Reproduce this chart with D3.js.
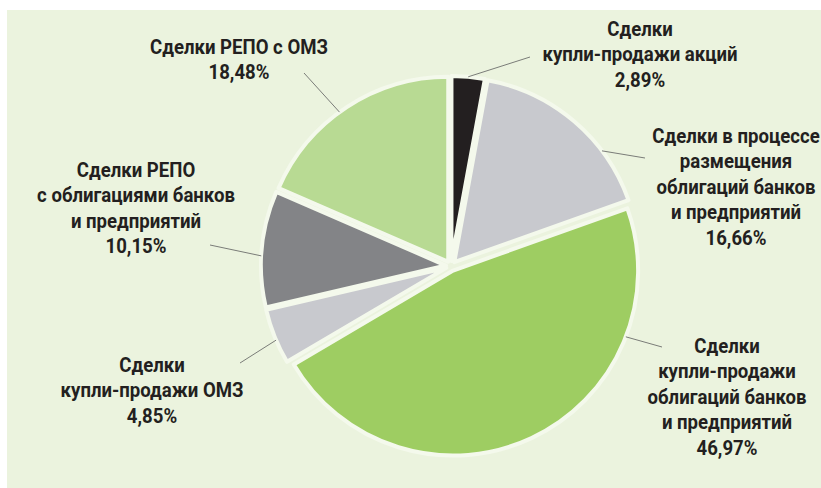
<!DOCTYPE html>
<html lang="ru">
<head>
<meta charset="UTF-8">
<title>Структура сделок</title>
<style>
    body { margin: 0; background: #fff; }
    svg { display: block; }
    .lbl { font-family: Roboto, "DejaVu Sans", sans-serif; font-weight: 700; font-size: 21px; fill: #231f20; }
</style>
</head>
<body>
<script src="https://d3js.org/d3.v7.min.js"></script>
<script>
    // data
    const categories = [
        ["Сделки", "купли-продажи акций"],
        ["Сделки в процессе", "размещения", "облигаций банков", "и предприятий"],
        ["Сделки", "купли-продажи", "облигаций банков", "и предприятий"],
        ["Сделки", "купли-продажи ОМЗ"],
        ["Сделки РЕПО", "с облигациями банков", "и предприятий"],
        ["Сделки РЕПО с ОМЗ"]
    ];
    const values = [2.89, 16.66, 46.97, 4.85, 10.15, 18.48];
    const colors = ["#231f20", "#c8c9ce", "#9ecd62", "#c8c9ce", "#838487", "#b8da93"];

    // layout for labels and leader lines
    const labelX = [640, 736, 727, 152, 136, 239];
    const labelY = [29, 136, 346, 365, 170, 47];
    const leadAngle = [5.2, 53, 111, 247, 273, 324];
    const leadEnd = [[530, 57], [645, 158], [662, 347], [240, 363], [210, 245], [304, 73]];

    const width = 821, height = 488;
    const cx = 451, cy = 266, r = 185, explode = 5, lineH = 25.5;

    const svg = d3.select("body").append("svg")
        .attr("width", width)
        .attr("height", height);

    svg.append("rect")
        .attr("x", 7).attr("y", 10)
        .attr("width", width - 7).attr("height", height - 10)
        .attr("fill", "#ebf3de");

    const pie = d3.pie().sort(null).value(d => d)(values);
    const arc = d3.arc().innerRadius(0).outerRadius(r);

    const offset = d => d3.pointRadial((d.startAngle + d.endAngle) / 2, explode);

    const g = svg.append("g").attr("transform", `translate(${cx},${cy})`);

    g.selectAll("path.slice")
        .data(pie)
        .join("path")
        .attr("class", "slice")
        .attr("transform", d => `translate(${offset(d)})`)
        .attr("d", arc)
        .attr("fill", (d, i) => colors[i])
        .attr("stroke", "#f4f9ec")
        .attr("stroke-width", 4)
        .attr("stroke-linejoin", "round");

    // leader lines
    g.selectAll("line.lead")
        .data(pie)
        .join("line")
        .attr("class", "lead")
        .each(function (d, i) {
            const o = offset(d);
            const p = d3.pointRadial(leadAngle[i] * Math.PI / 180, r);
            d3.select(this)
                .attr("x1", p[0] + o[0]).attr("y1", p[1] + o[1])
                .attr("x2", leadEnd[i][0] - cx).attr("y2", leadEnd[i][1] - cy);
        })
        .attr("stroke", "#7a7c78")
        .attr("stroke-width", 1);

    // condensed look: squeeze text horizontally so "облигаций банков" is ~159px wide
    const probe = svg.append("text").attr("class", "lbl").text("облигаций банков");
    const sx = 159 / probe.node().getComputedTextLength();
    probe.remove();

    // labels
    const fmt = v => v.toFixed(2).replace(".", ",") + "%";
    const labels = svg.selectAll("text.lbl")
        .data(values)
        .join("text")
        .attr("class", "lbl")
        .attr("text-anchor", "middle")
        .attr("transform", (d, i) => `translate(${labelX[i]},0) scale(${sx},1)`);

    labels.each(function (d, i) {
        const lines = categories[i].concat([fmt(d)]);
        d3.select(this).selectAll("tspan")
            .data(lines)
            .join("tspan")
            .attr("x", 0)
            .attr("y", (t, k) => labelY[i] + k * lineH)
            .attr("dominant-baseline", "central")
            .text(t => t);
    });
</script>
</body>
</html>
